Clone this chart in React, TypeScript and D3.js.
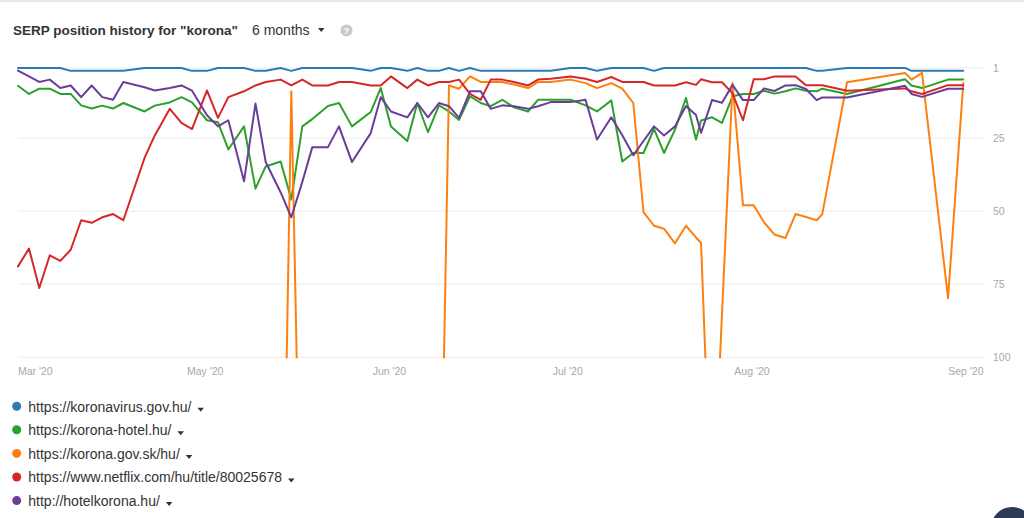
import React, { useEffect, useRef } from 'react';
import * as d3 from 'd3';

// Sample dates, as days after 30 Mar 2020 12:00
const START = new Date(2020, 2, 30, 12);
const DAY = 864e5;
const dayOffsets = [
  0, 1.85, 3.58, 5.35, 7.12, 8.87, 10.63, 12.4, 14.18, 15.99,
  17.72, 21.29, 23.02, 25.54, 27.51, 29.28, 31.8, 33.65, 35.39, 38.03,
  39.96, 41.68, 44.2, 45.99, 47.84, 49.52, 52.16, 54.01, 56.2, 59.35,
  61.03, 62.76, 65.51, 67.19, 68.99, 70.84, 72.52, 74.21, 76.06, 77.86,
  79.54, 81.49, 83.46, 85.82, 87.5, 89.63, 93.0, 95.49, 97.43, 99.83,
  101.68, 103.53, 105.25, 107.02, 108.7, 110.55, 112.4, 114.08, 114.93, 116.78,
  118.46, 120.23, 121.99, 123.79, 125.53, 127.29, 129.14, 130.83, 132.59, 134.39,
  135.33, 139.49, 149.25, 150.35, 152.11, 156.49, 159.06,
];
const END_DAY = 159.06;

// SERP positions (null = no sample). Values above 100 = not ranked (drawn off-chart, clipped)
const koronavirusGovHu = [
  1, 1, 1, 1, 1, 2, 2, 2, 2, 2,
  2, 1, 1, 1, 1, 2, 2, 1, 1, 1,
  2, 2, 1, 2, 1, 1, 1, 1, 1, 2,
  1, 1, 2, 1, 2, 2, 1, 2, 1, 2,
  2, 2, 2, 2, 2, 2, 1, 1, 2, 1,
  1, 1, 1, 2, 1, 1, 1, 1, 1, 1,
  1, 1, 1, 1, 1, 1, 1, 1, 1, 2,
  2, 1, 1, 2, 2, 2, 2,
];
const koronaHotelHu = [
  7.1, 9.9, 8.1, 8.1, 9.9, 9.9, 13.8, 14.9, 13.9, 14.9,
  13, 15.9, 13.9, 12.8, 11, 12.8, 18.9, 19.6, 28.9, 21,
  42.3, 34.7, 33, 46, 21, 18.5, 14, 13, 21, 16.1,
  7.9, 21, 26, 13, 23, 13.8, 15.9, 18.8, 10.7, 13,
  14.1, 11.9, 14.5, 15.9, 11.9, 11.9, 11.9, 13.8, 15.9, 12.1,
  33, 30.1, 30.1, 21.9, 30.1, 22.1, 11.3, 25.5, 19, 17.9,
  19.8, 10.7, 9.9, 9.9, 8.8, 9.8, 9, 8, 8.8, 9,
  8.1, 9.9, 4.9, 7, 7.9, 5, 5,
];
const koronaGovSk = [
  null, null, null, null, null, null, null, null, null, null,
  null, null, null, null, null, null, null, null, null, null,
  null, null, 219, 9, 195, null, null, null, null, null,
  null, null, null, null, null, 193, 7, 8.1, 3.9, 5.8,
  5.8, 5.8, 6.7, 7.9, 5.8, 5.8, 5, 6.2, 7.9, 6.2,
  8.1, 13, 50.3, 55, 56, 61, 55, 59, 60.9, 160,
  null, 6.2, 48, 48, 53.8, 58, 59.2, 51, 52, 53.1,
  51, 5.9, 2.7, 5, 2.7, 79.8, 6.2,
];
const netflixHu = [
  68.9, 62.8, 76.3, 65.1, 67, 63.2, 53.1, 54, 52.1, 51,
  53.1, 31.8, 24.1, 15, 19.8, 21.9, 8.7, 18.1, 11, 9,
  7, 5.8, 5, 7, 5, 7, 7, 5.8, 5.8, 7,
  7, 3.9, 7.9, 5, 7, 5.8, 5.8, 5, 9.9, 11.9,
  5, 5, 5.8, 7, 5, 4.7, 3.9, 4.7, 5.8, 4.1,
  5.8, 5.8, 5.8, 7, 7, 7, 5.9, 6.8, 4.9, 5.9,
  5.9, 9.7, 18.9, 4.9, 4.9, 3.9, 3.9, 3.9, 6.9, 6.9,
  6.9, 8.8, 8, 9, 9.9, 6.9, 6.9,
];
const hotelkoronaHu = [
  1.9, 3.9, 5.8, 5, 7.9, 7, 11, 7, 11, 11.9,
  5.8, 7.6, 8.7, 7.9, 7, 8.8, 17.2, 21, 18.9, 39.8,
  13.2, 33.2, 43.6, 52.1, 40, 28.1, 28.1, 21, 33.2, 23.3,
  11, 15.9, 17.9, 13, 17.9, 13, 14.1, 18.1, 9, 9,
  15, 13.8, 14.1, 15, 14.1, 12.7, 12.7, 11.9, 25.5, 17.9,
  24, 30.9, 26, 21, 24.1, 21, 14, 17.1, 23.2, 12,
  12.9, 6.8, 12, 12, 8, 8.9, 7, 6.9, 8.2, 12,
  11.1, 11.1, 7.1, 9.9, 10.9, 8.1, 8.1,
];

const seriesNames = [
  'https://koronavirus.gov.hu/',
  'https://korona-hotel.hu/',
  'https://korona.gov.sk/hu/',
  'https://www.netflix.com/hu/title/80025678',
  'http://hotelkorona.hu/',
];
const seriesValues = [koronavirusGovHu, koronaHotelHu, koronaGovSk, netflixHu, hotelkoronaHu];
const seriesColors = ['#2a7ab8', '#2ca02c', '#ff7f0e', '#d62728', '#6a3d9a'];

const yTicks = [1, 25, 50, 75, 100];
const xTicks = [
  { label: "Mar '20", date: new Date(2020, 2, 30, 12), anchor: 'start' },
  { label: "May '20", date: new Date(2020, 4, 1), anchor: 'middle' },
  { label: "Jun '20", date: new Date(2020, 5, 1), anchor: 'middle' },
  { label: "Jul '20", date: new Date(2020, 6, 1), anchor: 'middle' },
  { label: "Aug '20", date: new Date(2020, 7, 1), anchor: 'middle' },
  { label: "Sep '20", date: new Date(2020, 8, 6), anchor: 'middle' },
];

const FONT = '"Liberation Sans", Arial, Helvetica, sans-serif';

export default function App() {
  const ref = useRef<SVGSVGElement>(null);

  useEffect(() => {
    const svg = d3.select(ref.current);
    svg.selectAll('*').remove();

    const plotLeft = 18;
    const plotRight = 963.3;
    const gridRight = 985;
    const x = d3
      .scaleTime()
      .domain([START, new Date(START.getTime() + END_DAY * DAY)])
      .range([plotLeft, plotRight]);
    const y = d3.scaleLinear().domain([0, 100]).range([65, 357.3]);

    // top strip
    svg.append('rect').attr('x', 0).attr('y', 0).attr('width', 1024).attr('height', 2).attr('fill', '#e8e8e8');

    // Title
    svg
      .append('text')
      .attr('x', 13)
      .attr('y', 35)
      .attr('font-family', FONT)
      .attr('font-size', 13.5)
      .attr('font-weight', 'bold')
      .attr('fill', '#333')
      .text('SERP position history for "korona"');
    svg
      .append('text')
      .attr('x', 252)
      .attr('y', 35)
      .attr('font-family', FONT)
      .attr('font-size', 14)
      .attr('fill', '#333')
      .text('6 months');
    svg.append('polygon').attr('points', '318,28 324.5,28 321.25,32').attr('fill', '#333');
    svg.append('circle').attr('cx', 346.5).attr('cy', 30.5).attr('r', 6).attr('fill', '#c9c9c9');
    svg
      .append('text')
      .attr('x', 346.5)
      .attr('y', 34)
      .attr('text-anchor', 'middle')
      .attr('font-family', FONT)
      .attr('font-size', 9.5)
      .attr('font-weight', 'bold')
      .attr('fill', '#fff')
      .text('?');

    // Grid
    const grid = svg.append('g');
    grid
      .selectAll('line')
      .data(yTicks)
      .join('line')
      .attr('x1', plotLeft)
      .attr('x2', gridRight)
      .attr('y1', (d) => y(d))
      .attr('y2', (d) => y(d))
      .attr('stroke', '#ececec')
      .attr('stroke-width', 1);
    grid
      .selectAll('text')
      .data(yTicks)
      .join('text')
      .attr('x', 993)
      .attr('y', (d) => y(d))
      .attr('dy', '0.35em')
      .attr('font-family', FONT)
      .attr('font-size', 10.5)
      .attr('fill', '#a8a8a8')
      .text((d) => String(d));

    // X labels
    svg
      .append('g')
      .selectAll('text')
      .data(xTicks)
      .join('text')
      .attr('x', (d) => x(d.date))
      .attr('y', 375)
      .attr('text-anchor', (d) => d.anchor)
      .attr('font-family', FONT)
      .attr('font-size', 10.5)
      .attr('fill', '#a8a8a8')
      .text((d) => d.label);

    // Clip
    svg
      .append('defs')
      .append('clipPath')
      .attr('id', 'plot-clip')
      .append('rect')
      .attr('x', 0)
      .attr('y', 40)
      .attr('width', 1000)
      .attr('height', 358.3 - 40);

    const line = d3
      .line<[Date, number]>()
      .x((d) => x(d[0]))
      .y((d) => y(d[1]));

    const lines = svg.append('g').attr('clip-path', 'url(#plot-clip)');
    seriesValues.forEach((vals, i) => {
      const pts: [Date, number][] = [];
      vals.forEach((v, j) => {
        if (v !== null && v !== undefined) pts.push([new Date(START.getTime() + dayOffsets[j] * DAY), v as number]);
      });
      lines
        .append('path')
        .attr('d', line(pts) || '')
        .attr('fill', 'none')
        .attr('stroke', seriesColors[i])
        .attr('stroke-width', 2)
        .attr('stroke-linejoin', 'round')
        .attr('stroke-linecap', 'round');
    });

    // Legend
    const ly = d3.scaleLinear().domain([0, 4]).range([406.2, 500.6]);
    const legend = svg.append('g');
    seriesNames.forEach((name, i) => {
      const cy = ly(i);
      legend.append('circle').attr('cx', 16.7).attr('cy', cy).attr('r', 4.5).attr('fill', seriesColors[i]);
      const t = legend
        .append('text')
        .attr('x', 28.3)
        .attr('y', cy + 5.3)
        .attr('font-family', FONT)
        .attr('font-size', 14)
        .attr('fill', '#333')
        .text(name);
      const w = (t.node() as SVGTextElement).getComputedTextLength();
      const tx = 28.3 + w + 6;
      legend
        .append('polygon')
        .attr('points', `${tx},${cy + 1.5} ${tx + 6.5},${cy + 1.5} ${tx + 3.25},${cy + 5.5}`)
        .attr('fill', '#333');
    });

    // chat bubble at bottom-right
    svg.append('circle').attr('cx', 1012).attr('cy', 528).attr('r', 21).attr('fill', '#2c3a53');
  }, []);

  return (
    <svg
      ref={ref}
      width={1024}
      height={518}
      style={{ position: 'absolute', left: 0, top: 0, background: '#fff', display: 'block' }}
    />
  );
}
